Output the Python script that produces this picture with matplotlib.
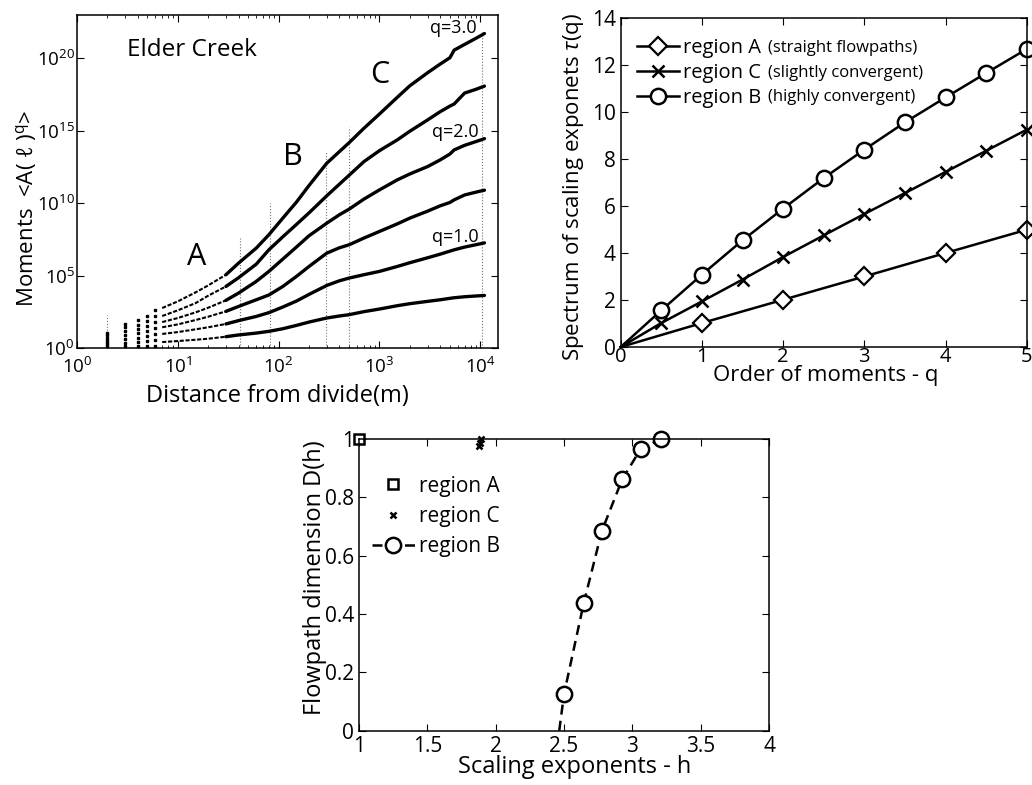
import matplotlib
matplotlib.use('Agg')
import matplotlib.pyplot as plt
from matplotlib.ticker import FixedLocator, LogLocator, NullLocator, FuncFormatter

plt.rcParams['font.family'] = 'Open Sans'
plt.rcParams['mathtext.fontset'] = 'custom'
plt.rcParams['mathtext.rm'] = 'Open Sans'
plt.rcParams['mathtext.it'] = 'Open Sans:italic'
plt.rcParams['xtick.direction'] = 'in'
plt.rcParams['ytick.direction'] = 'in'
plt.rcParams['xtick.top'] = True
plt.rcParams['ytick.right'] = True
plt.rcParams['axes.linewidth'] = 1.1

# --- moments <A(l)^q> vs distance from divide (log10 of the moment) ---
distance = [7, 10, 15, 20, 30, 40, 60, 80, 110, 150, 200, 300, 400, 500, 700,
            1000, 1500, 2000, 3000, 4000, 5000, 5500, 7000, 9000, 11000]
mom_q05 = [0.41, 0.48, 0.57, 0.64, 0.78, 0.90, 1.03, 1.15, 1.33, 1.56, 1.79,
           2.07, 2.21, 2.30, 2.51, 2.69, 2.92, 3.06, 3.22, 3.33, 3.43, 3.47,
           3.54, 3.59, 3.63]
mom_q10 = [0.97, 1.10, 1.29, 1.43, 1.66, 1.89, 2.18, 2.44, 2.83, 3.24, 3.70,
           4.32, 4.64, 4.83, 5.06, 5.29, 5.63, 5.89, 6.23, 6.48, 6.69, 6.78,
           6.97, 7.13, 7.26]
mom_q15 = [1.43, 1.63, 1.93, 2.16, 2.53, 2.87, 3.33, 3.66, 4.25, 4.94, 5.63,
           6.55, 6.92, 7.13, 7.59, 8.05, 8.57, 8.97, 9.45, 9.82, 10.05, 10.23,
           10.57, 10.76, 10.90]
mom_q20 = [1.79, 2.07, 2.46, 2.78, 3.29, 3.79, 4.60, 5.29, 6.14, 6.97, 7.75,
           8.62, 9.20, 9.59, 10.28, 10.92, 11.61, 12.02, 12.53, 12.99, 13.40,
           13.68, 14.00, 14.25, 14.46]
mom_q25 = [2.21, 2.60, 3.10, 3.61, 4.25, 4.85, 5.79, 6.78, 7.68, 8.53, 9.33,
           10.51, 11.31, 11.93, 12.87, 13.63, 14.37, 14.97, 15.75, 16.32,
           16.71, 16.85, 17.61, 17.86, 18.09]
mom_q30 = [2.76, 3.22, 3.84, 4.32, 5.06, 5.86, 6.90, 7.82, 8.97, 10.07, 11.22,
           12.76, 13.56, 14.18, 15.17, 16.16, 17.31, 18.11, 19.01, 19.61,
           20.05, 20.57, 20.97, 21.38, 21.72]
moments = [mom_q05, mom_q10, mom_q15, mom_q20, mom_q25, mom_q30]

# short distances: single-pixel values for each q
short_dist = [2, 3, 4, 5, 6]
short_vals = [
    [0.11, 0.26, 0.41, 0.57, 0.72, 0.87, 1.03],
    [0.11, 0.37, 0.64, 0.90, 1.16, 1.42, 1.68],
    [0.11, 0.41, 0.71, 1.01, 1.31, 1.61, 1.91],
    [0.11, 0.46, 0.80, 1.15, 1.50, 1.85, 2.20],
    [0.11, 0.53, 0.94, 1.36, 1.77, 2.19, 2.60],
]

# region break markers (distance, log10 height)
break_dist = [2, 41, 82, 297, 500, 10500]
break_top = [2.3, 7.66, 10.0, 13.56, 15.29, 21.8]

# --- scaling exponent spectrum tau(q) ---
q_A = [0, 1, 2, 3, 4, 5]
tau_A = [0, 1.02, 2.01, 3.0, 4.0, 4.99]
q_BC = [0, 0.5, 1.0, 1.5, 2.0, 2.5, 3.0, 3.5, 4.0, 4.5, 5.0]
tau_C = [0, 1.02, 1.94, 2.87, 3.83, 4.75, 5.66, 6.55, 7.45, 8.35, 9.25]
tau_B = [0, 1.56, 3.08, 4.54, 5.89, 7.19, 8.40, 9.56, 10.62, 11.66, 12.68]

# --- flowpath dimension D(h) ---
h_A = [1.0]
D_A = [1.0]
h_C = [1.88, 1.885, 1.89]
D_C = [0.975, 0.987, 1.0]
h_B = [2.465, 2.50, 2.645, 2.777, 2.926, 3.06, 3.209]
D_B = [0.0, 0.126, 0.439, 0.685, 0.862, 0.965, 1.0]


def place_labels(ax, xcenter, xbase, ybase, ycenter):
    # put axis labels by their text baseline (axes fraction)
    ax.xaxis.set_label_coords(xcenter, xbase)
    ax.xaxis.label.set_va('baseline')
    ax.yaxis.set_label_coords(ybase, ycenter)
    ax.yaxis.label.set_va('baseline')


fig = plt.figure(figsize=(10.32, 7.85), dpi=100)

# ---------------- moments ----------------
ax1 = fig.add_axes([0.0746, 0.5567, 0.408, 0.4242])
for x, top in zip(break_dist, break_top):
    ax1.plot([x, x], [1, 10 ** top], ls=':', color='0.45', lw=0.8)
for x, col in zip(short_dist, short_vals):
    ax1.plot([x] * len(col), [10 ** v for v in col], ls='none', marker='s',
             ms=1.6, color='k')
for vals in moments:
    ys = [10 ** v for v in vals]
    # thin near the divide, heavy once the samples pile up
    ax1.plot(distance[:6], ys[:6], color='k', lw=1.5, ls=(0, (2, 0.8)))
    ax1.plot(distance[4:], ys[4:], color='k', lw=2.4,
             solid_capstyle='round', solid_joinstyle='round')
ax1.set_xscale('log')
ax1.set_yscale('log')
ax1.set_xlim(1, 1.5e4)
ax1.set_ylim(1, 1e23)
ax1.yaxis.set_major_locator(FixedLocator([1e0, 1e5, 1e10, 1e15, 1e20]))
ax1.yaxis.set_minor_locator(NullLocator())
ax1.xaxis.set_major_locator(FixedLocator([1e0, 1e1, 1e2, 1e3, 1e4]))
ax1.xaxis.set_minor_locator(LogLocator(base=10, subs=range(2, 10), numticks=20))
ax1.tick_params(which='major', length=5, labelsize=13.5)
ax1.tick_params(which='minor', length=2.5)
ax1.tick_params(axis='y', pad=1.5)
ax1.tick_params(axis='x', pad=6.5)
ax1.set_xlabel('Distance from divide(m)', fontsize=17)
ax1.set_ylabel(r'Moments  <A( $\ell$ )$^{\mathrm{q}}$>', fontsize=16)
place_labels(ax1, 0.475, -0.162, -0.104, 0.42)
ax1.text(3.1, 10 ** 20.6, 'Elder Creek', fontsize=17.5, va='center', ha='left')
ax1.text(15.3, 10 ** 6.3, 'A', fontsize=22, va='center', ha='center')
ax1.text(138, 10 ** 13.2, 'B', fontsize=22, va='center', ha='center')
ax1.text(1000, 10 ** 18.85, 'C', fontsize=22, va='center', ha='center')
ax1.text(5400, 10 ** 22.1, 'q=3.0', fontsize=13, va='center', ha='center')
ax1.text(5600, 10 ** 14.95, 'q=2.0', fontsize=13, va='center', ha='center')
ax1.text(5600, 10 ** 7.7, 'q=1.0', fontsize=13, va='center', ha='center')

# ---------------- tau(q) ----------------
ax2 = fig.add_axes([0.6015, 0.558, 0.3934, 0.419])
ax2.plot(q_A, tau_A, color='k', lw=1.8, marker='D', ms=9, mfc='white',
         mew=1.6, markevery=range(1, len(q_A)), clip_on=False,
         label='region A')
ax2.plot(q_BC, tau_C, color='k', lw=1.8, marker='x', ms=8, mew=1.8,
         markevery=range(1, len(q_BC)), clip_on=False, label='region C')
ax2.plot(q_BC, tau_B, color='k', lw=1.8, marker='o', ms=11, mfc='white',
         mew=1.8, markevery=range(1, len(q_BC)), clip_on=False,
         label='region B')
ax2.set_xlim(0, 5)
ax2.set_ylim(0, 14)
ax2.set_xticks(range(0, 6))
ax2.set_yticks(range(0, 15, 2))
ax2.tick_params(length=5, labelsize=15)
ax2.tick_params(axis='x', pad=0, labelsize=14.5)
ax2.set_xlabel('Order of moments - q', fontsize=16)
ax2.set_ylabel(r'Spectrum of scaling exponets $\tau$(q)', fontsize=16)
place_labels(ax2, 0.504, -0.104, -0.104, 0.487)
ax2.legend(loc='center left', bbox_to_anchor=(0.04, 0.834), frameon=False,
           fontsize=14.5, borderpad=0, borderaxespad=0, handlelength=2.1,
           handletextpad=0.2, labelspacing=0.25)
ax2.text(0.363, 0.908, '(straight flowpaths)', transform=ax2.transAxes,
         fontsize=12, va='center')
ax2.text(0.363, 0.834, '(slightly convergent)', transform=ax2.transAxes,
         fontsize=12, va='center')
ax2.text(0.363, 0.759, '(highly convergent)', transform=ax2.transAxes,
         fontsize=12, va='center')

# ---------------- D(h) ----------------
ax3 = fig.add_axes([0.3479, 0.0692, 0.3973, 0.3716])
ax3.plot(h_A, D_A, ls='none', marker='s', ms=7, mfc='white', mec='k',
         mew=1.8, clip_on=False, label='region A')
ax3.plot(h_C, D_C, ls='none', marker='x', ms=5, mec='k', mew=1.8,
         clip_on=False, label='region C')
ax3.plot(h_B, D_B, color='k', ls='--', dashes=(4, 2.5), lw=1.8, marker='o',
         ms=11, mfc='white', mew=1.8, markevery=range(1, len(h_B)),
         clip_on=False, label='region B')
ax3.set_xlim(1, 4)
ax3.set_ylim(0, 1)
ax3.set_xticks([1, 1.5, 2, 2.5, 3, 3.5, 4])
ax3.set_yticks([0, 0.2, 0.4, 0.6, 0.8, 1.0])
fmt = FuncFormatter(lambda v, pos: '%g' % v)
ax3.xaxis.set_major_formatter(fmt)
ax3.yaxis.set_major_formatter(fmt)
ax3.tick_params(length=5, labelsize=15)
ax3.set_xlabel('Scaling exponents - h', fontsize=17)
ax3.set_ylabel('Flowpath dimension D(h)', fontsize=17)
place_labels(ax3, 0.527, -0.146, -0.093, 0.523)
ax3.legend(loc='center left', bbox_to_anchor=(0.031, 0.734), frameon=False,
           fontsize=15, borderpad=0, borderaxespad=0, handlelength=2.06,
           handletextpad=0.22, labelspacing=0.45)

fig.savefig('out.png', dpi=100)
